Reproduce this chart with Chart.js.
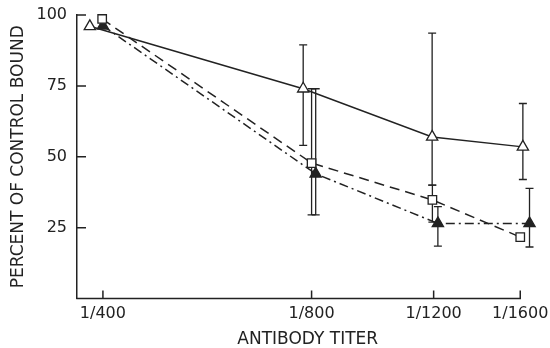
<!DOCTYPE html>
<html>
<head>
<meta charset="utf-8">
<script src="https://cdn.jsdelivr.net/npm/chart.js@4"></script>
<style>
  body { margin: 0; background: #fff; }
  canvas { display: block; }
</style>
</head>
<body>
<canvas id="chart" width="550" height="348"></canvas>
<script>
// axis ticks
const titerTicks = [400, 800, 1200, 1600]
const titerLabels = ['1/400', '1/800', '1/1200', '1/1600']
const percentTicks = [25, 50, 75, 100]

// open triangles, solid line (x = titer position)
const openTriX = [383, 778, 1194, 1614]
const openTriY = [96, 74, 57, 53.5]
const openTriHi = [null, 89.5, 93.6, 68.8]
const openTriLo = [null, 54, 40, 42]

// open squares, dashed line
const squareX = [399, 800, 1195, 1600]
const squareY = [98.6, 47.8, 34.8, 21.7]
const squareHi = [null, 74, 40, null]
const squareLo = [null, 29.5, 27, null]

// filled triangles, dash-dot line
const filledX = [400, 811, 1217, 1650]
const filledY = [96.2, 44, 26.5, 26.5]
const filledHi = [null, 74, 32.4, 38.9]
const filledLo = [null, 29.5, 18.5, 18.2]

const ink = '#222'
const tickFont = { family: 'DejaVu Sans', size: 16 }
const titleFont = { family: 'DejaVu Sans', size: 17 }

function toPoints(xs, ys) {
    return xs.map((x, i) => ({ x: x, y: ys[i] }))
}

const errorBars = [
    { xs: openTriX, hi: openTriHi, lo: openTriLo },
    { xs: squareX, hi: squareHi, lo: squareLo },
    { xs: filledX, hi: filledHi, lo: filledLo }
]

const errorBarPlugin = {
    id: 'errorBars',
    beforeDatasetsDraw(chart) {
        const ctx = chart.ctx
        const xs = chart.scales.x
        const ys = chart.scales.y
        ctx.save()
        ctx.strokeStyle = ink
        ctx.lineWidth = 1.3
        errorBars.forEach(bar => {
            bar.xs.forEach((xv, j) => {
                if (bar.hi[j] == null) return
                const x = xs.getPixelForValue(xv)
                const yHi = ys.getPixelForValue(bar.hi[j])
                const yLo = ys.getPixelForValue(bar.lo[j])
                ctx.beginPath()
                ctx.moveTo(x, yHi)
                ctx.lineTo(x, yLo)
                ctx.moveTo(x - 4, yHi)
                ctx.lineTo(x + 4, yHi)
                ctx.moveTo(x - 4, yLo)
                ctx.lineTo(x + 4, yLo)
                ctx.stroke()
            })
        })
        ctx.restore()
    }
}

// x axis line stops at the last tick; tick marks point inward
const axisPlugin = {
    id: 'axisMarks',
    afterDraw(chart) {
        const ctx = chart.ctx
        const area = chart.chartArea
        const xs = chart.scales.x
        const ys = chart.scales.y
        const xEnd = xs.getPixelForValue(titerTicks[titerTicks.length - 1])
        ctx.save()
        ctx.strokeStyle = ink
        ctx.lineWidth = 1.5
        ctx.beginPath()
        ctx.moveTo(area.left - 0.75, area.bottom)
        ctx.lineTo(xEnd + 0.75, area.bottom)
        percentTicks.forEach(v => {
            const y = ys.getPixelForValue(v)
            ctx.moveTo(area.left, y)
            ctx.lineTo(area.left + 9, y)
        })
        titerTicks.forEach(v => {
            const x = xs.getPixelForValue(v)
            ctx.moveTo(x, area.bottom)
            ctx.lineTo(x, area.bottom - 8)
        })
        ctx.stroke()
        ctx.restore()
    }
}

const config = {
    type: 'line',
    data: {
        datasets: [{
            data: toPoints(openTriX, openTriY),
            borderColor: ink,
            borderWidth: 1.5,
            pointStyle: 'triangle',
            pointRadius: 6.5,
            pointBackgroundColor: '#fff',
            pointBorderColor: ink,
            pointBorderWidth: 1.3,
            clip: false
        }, {
            data: toPoints(squareX, squareY),
            borderColor: ink,
            borderWidth: 1.5,
            borderDash: [10, 6],
            pointStyle: 'rect',
            pointRadius: 6,
            pointBackgroundColor: '#fff',
            pointBorderColor: ink,
            pointBorderWidth: 1.3,
            clip: false
        }, {
            data: toPoints(filledX, filledY),
            borderColor: ink,
            borderWidth: 1.5,
            borderDash: [9, 4, 2, 4],
            pointStyle: 'triangle',
            pointRadius: 6.5,
            pointBackgroundColor: ink,
            pointBorderColor: ink,
            pointBorderWidth: 1.3,
            clip: false
        }]
    },
    options: {
        responsive: false,
        animation: false,
        layout: { padding: { top: 15, right: 11.5, left: 0, bottom: 0 } },
        plugins: {
            legend: { display: false },
            tooltip: { enabled: false }
        },
        scales: {
            x: {
                type: 'logarithmic',
                min: 367,
                max: 1700,
                bounds: 'data',
                grid: { display: false, drawTicks: false },
                border: { display: false },
                afterBuildTicks: s => { s.ticks = titerTicks.map(v => ({ value: v })) },
                afterFit: s => {
                    s.height = 49.4
                    s.paddingLeft = 0
                    s.paddingRight = 0
                },
                ticks: {
                    autoSkip: false,
                    maxRotation: 0,
                    padding: 6,
                    color: ink,
                    font: tickFont,
                    callback: v => titerLabels[titerTicks.indexOf(v)]
                },
                title: {
                    display: true,
                    text: 'ANTIBODY TITER',
                    color: ink,
                    font: titleFont,
                    padding: { top: 0, bottom: -2 }
                }
            },
            y: {
                min: 0,
                max: 100,
                grid: { display: false, drawTicks: false },
                border: { display: true, color: ink, width: 1.5 },
                afterBuildTicks: s => { s.ticks = percentTicks.map(v => ({ value: v })) },
                afterFit: s => {
                    s.width = 77
                    s.paddingTop = 0
                    s.paddingBottom = 0
                },
                ticks: {
                    padding: 10,
                    color: ink,
                    font: tickFont
                },
                title: {
                    display: true,
                    text: 'PERCENT OF CONTROL BOUND',
                    color: ink,
                    font: titleFont,
                    padding: { top: 8, bottom: 4 }
                }
            }
        }
    },
    plugins: [errorBarPlugin, axisPlugin]
}

const chart = new Chart(document.getElementById('chart'), config)
</script>
</body>
</html>
